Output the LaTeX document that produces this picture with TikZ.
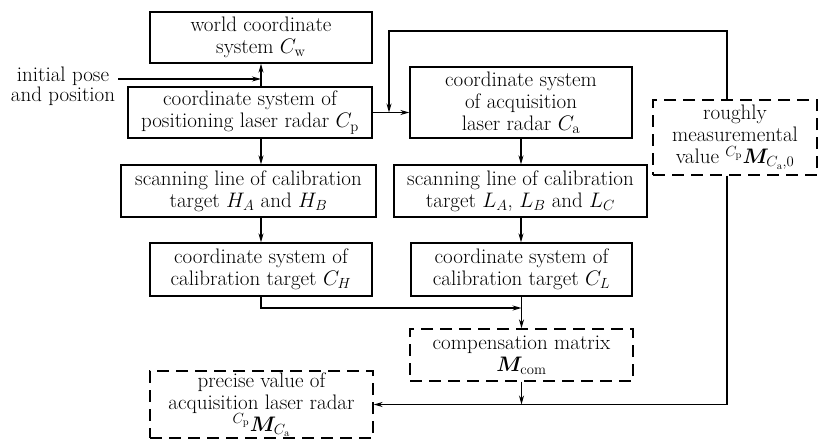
\RequirePackage{fix-cm}
\documentclass[tikz,border=0pt]{standalone}
\usepackage{amsmath}
\usepackage{bm}
\usetikzlibrary{arrows.meta}

\tikzset{
  base/.style={draw, line width=1.3pt, inner sep=0pt, align=center,
    font=\fontsize{21}{22}\selectfont},
  solidbox/.style={base},
  dashbox/.style={base, dash pattern=on 12pt off 7pt},
  link/.style={line width=1.2pt},
  arr/.style={link, -{Stealth[length=9pt,width=5pt]}},
}

\begin{document}
\begin{tikzpicture}[x=1pt,y=-1pt]
\useasboundingbox (0,0) rectangle (821,440);

% left column
\node[solidbox, minimum width=222pt, minimum height=51pt] (world) at (261,37.5)
  {world coordinate\\system $C_\mathrm{w}$};
\node[solidbox, minimum width=244pt, minimum height=51pt] (cp) at (250,112.5)
  {coordinate system of\\positioning laser radar $C_\mathrm{p}$};
\node[solidbox, minimum width=255pt, minimum height=52pt] (scanH) at (248.5,191)
  {scanning line of calibration\\target $H_A$ and $H_B$};
\node[solidbox, minimum width=222pt, minimum height=53pt] (coordH) at (261,269.5)
  {coordinate system of\\calibration target $C_H$};

% right column
\node[solidbox, minimum width=222pt, minimum height=71pt] (acq) at (521,102.5)
  {coordinate system\\of acquisition\\laser radar $C_\mathrm{a}$};
\node[solidbox, minimum width=253pt, minimum height=52pt] (scanL) at (520.5,191)
  {scanning line of calibration\\target $L_A$, $L_B$ and $L_C$};
\node[solidbox, minimum width=221pt, minimum height=53pt] (coordL) at (521.5,269.5)
  {coordinate system of\\calibration target $C_L$};

% estimated and computed quantities
\node[dashbox, minimum width=164pt, minimum height=75pt] (rough) at (735,137.5)
  {roughly\\measuremental\\value ${}^{C_\mathrm{p}}\bm{M}_{C_\mathrm{a},0}$};
\node[dashbox, minimum width=223pt, minimum height=52pt] (comp) at (521.5,355)
  {compensation matrix\\$\bm{M}_\mathrm{com}$};
\node[dashbox, minimum width=223pt, minimum height=67pt] (precise) at (261.5,404.5)
  {precise value of\\acquisition laser radar\\${}^{C_\mathrm{p}}\bm{M}_{C_\mathrm{a}}$};

% input label
\node[align=center, inner sep=0pt, font=\fontsize{21}{15}\selectfont] (init) at (63,86)
  {initial pose\\and position};

% helper points
\coordinate (ja) at (261,79);
\coordinate (fb) at (389,112.5);
\coordinate (rx) at (727,0);
\coordinate (top) at (0,31);
\coordinate (jc) at (521.5,308);

% connectors
\draw[arr] (world.south |- cp.north) -- (world.south);
\draw[arr] (ja -| init.east) ++(3,0) -- (ja);
\draw[arr] (cp.east) -- (acq.west |- cp.east);
\draw[arr] (rx |- rough.north) -- (rx |- top) -| (fb);
\draw[arr] (world.south |- cp.south) -- (world.south |- scanH.north);
\draw[arr] (coordH.north |- scanH.south) -- (coordH.north);
\draw[arr] (coordH.south) |- (jc);
\draw[arr] (acq.south) -- (acq.south |- scanL.north);
\draw[arr] (acq.south |- scanL.south) -- (acq.south |- coordL.north);
\draw[arr] (coordL.south) -- (comp.north);
\draw[arr] (comp.south) -- (comp.south |- precise.east);
\draw[arr] (rx |- rough.south) -- (rx |- precise.east) -- (precise.east);
\end{tikzpicture}
\end{document}
